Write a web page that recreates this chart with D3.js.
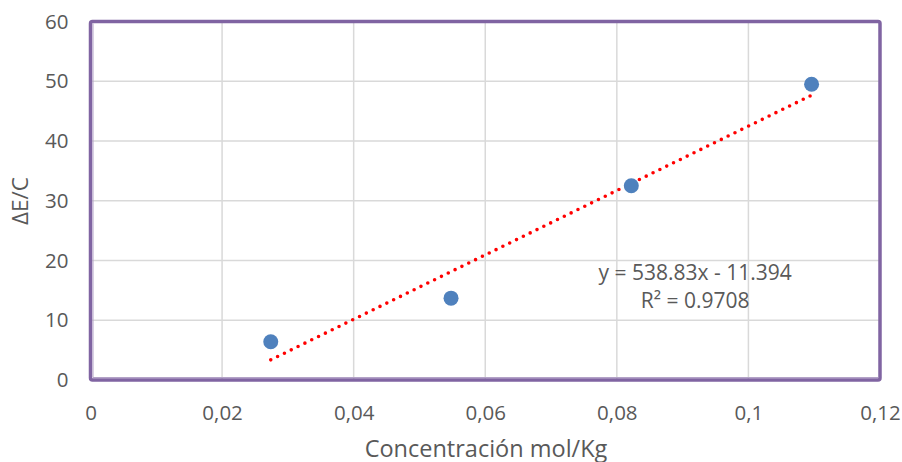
<!DOCTYPE html>
<html>
<head>
<meta charset="utf-8">
<script src="https://cdn.jsdelivr.net/npm/d3@7"></script>
<style>
  body { margin: 0; background: #fff; }
  text { font-family: "Open Sans", sans-serif; fill: #595959; }
</style>
</head>
<body>
<div id="main"></div>
<script>
// data
var concentracion = [0.0274, 0.0548, 0.0822, 0.1096];
var deltaEC = [6.4, 13.7, 32.5, 49.5];
var xTicks = [0, 0.02, 0.04, 0.06, 0.08, 0.1, 0.12];
var yTicks = [0, 10, 20, 30, 40, 50, 60];
var slope = 538.83;
var intercept = -11.394;
var rSquared = 0.9708;

var ctx = {
    w: 902,
    h: 462,
    margin: { top: 21.5, right: 22, bottom: 82, left: 90.5 },
};

var svg = d3.select("#main").append("svg")
    .attr("width", ctx.w)
    .attr("height", ctx.h);

var iw = ctx.w - ctx.margin.left - ctx.margin.right;
var ih = ctx.h - ctx.margin.top - ctx.margin.bottom;

var g = svg.append("g")
    .attr("transform", "translate(" + ctx.margin.left + "," + ctx.margin.top + ")");

var x = d3.scaleLinear().domain([0, 0.12]).range([0, iw]);
var y = d3.scaleLinear().domain([0, 60]).range([ih, 0]);

// grid
g.append("g").selectAll("line").data(xTicks.slice(1, -1)).enter().append("line")
    .attr("x1", d => x(d)).attr("x2", d => x(d))
    .attr("y1", 0).attr("y2", ih)
    .attr("stroke", "#d9d9d9").attr("stroke-width", 1.5);
g.append("g").selectAll("line").data(yTicks.slice(1, -1)).enter().append("line")
    .attr("x1", 0).attr("x2", iw)
    .attr("y1", d => y(d)).attr("y2", d => y(d))
    .attr("stroke", "#d9d9d9").attr("stroke-width", 1.5);

// axes (labels only)
var xAxis = g.append("g")
    .attr("transform", "translate(0," + ih + ")")
    .call(d3.axisBottom(x).tickValues(xTicks).tickSize(0).tickPadding(25)
        .tickFormat(d => String(d).replace(".", ",")));
var yAxis = g.append("g")
    .call(d3.axisLeft(y).tickValues(yTicks).tickSize(0).tickPadding(22));
[xAxis, yAxis].forEach(function (a) {
    a.select(".domain").remove();
    a.selectAll("text").style("font-size", "20.5px").attr("fill", "#595959")
        .style("font-family", "'Open Sans', sans-serif");
});

// plot area border
g.append("rect")
    .attr("x", 0).attr("y", 0).attr("width", iw).attr("height", ih)
    .attr("rx", 2)
    .attr("fill", "none").attr("stroke", "#8064a2").attr("stroke-width", 3.5);
g.append("path")
    .attr("d", "M2.5," + 2 + "V" + (ih - 2.5) + "H" + (iw - 2))
    .attr("fill", "none").attr("stroke", "#b3a2c7").attr("stroke-width", 1);

// trendline
var xs = d3.extent(concentracion);
g.append("line")
    .attr("x1", x(xs[0])).attr("y1", y(slope * xs[0] + intercept))
    .attr("x2", x(xs[1])).attr("y2", y(slope * xs[1] + intercept))
    .attr("stroke", "#ff0000").attr("stroke-width", 3.6)
    .attr("stroke-linecap", "round").attr("stroke-dasharray", "0 7.6");

// points
g.selectAll("circle.pt").data(concentracion).enter().append("circle")
    .attr("class", "pt")
    .attr("cx", d => x(d))
    .attr("cy", (d, i) => y(deltaEC[i]))
    .attr("r", 7.5)
    .attr("fill", "#4f81bd");

// equation
var eq = g.append("text").attr("text-anchor", "middle")
    .attr("x", x(0.0919)).attr("y", y(16.8))
    .style("font-size", "21px");
eq.append("tspan").attr("x", x(0.0919)).attr("dy", 0)
    .text("y = " + slope + "x - " + Math.abs(intercept));
eq.append("tspan").attr("x", x(0.0919)).attr("dy", 28)
    .text("R² = " + rSquared);

// axis titles
svg.append("text").attr("text-anchor", "middle")
    .attr("x", 486).attr("y", 457)
    .style("font-size", "23.5px")
    .text("Concentración mol/Kg");
svg.append("text").attr("text-anchor", "middle")
    .attr("transform", "translate(28,201) rotate(-90)")
    .style("font-size", "22.5px")
    .text("ΔE/C");
</script>
</body>
</html>
